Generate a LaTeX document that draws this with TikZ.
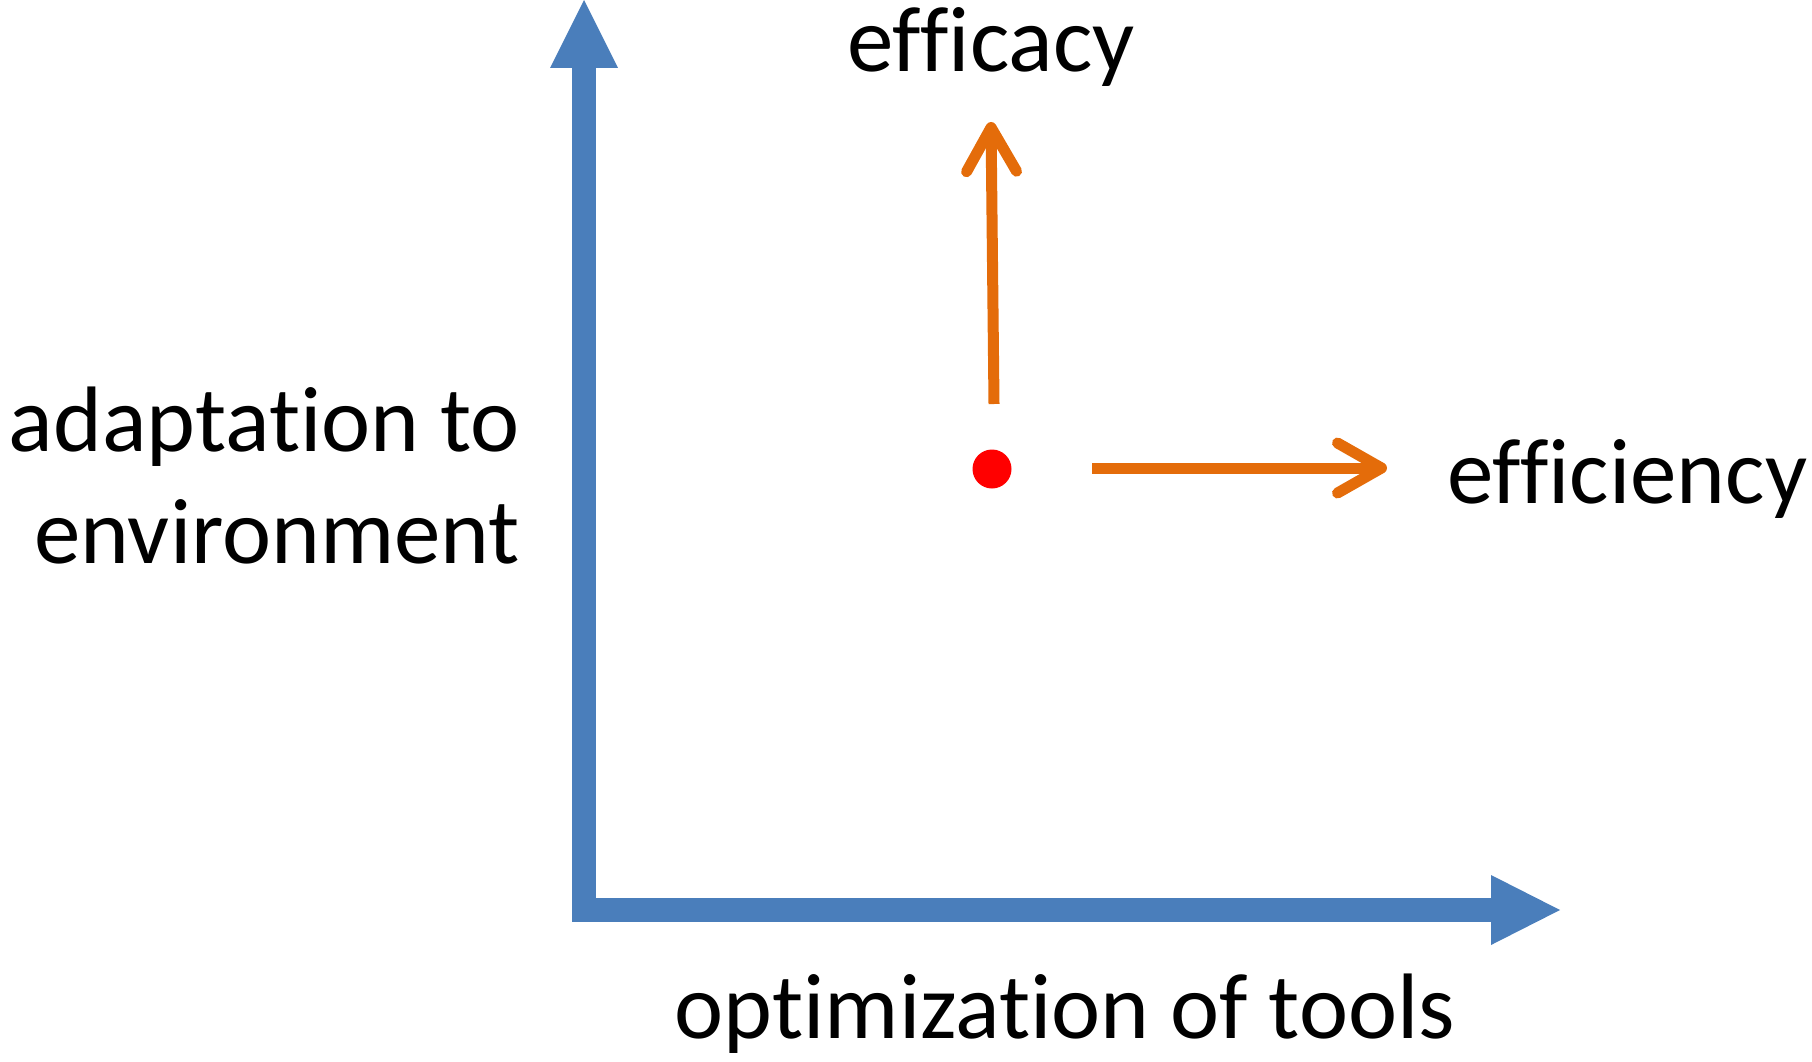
\documentclass[tikz,border=0pt]{standalone}
\usepackage{fontspec}
\setmainfont{Carlito}[Ligatures=NoCommon]
\usepackage{tikz}
\usetikzlibrary{arrows.meta,positioning}
\definecolor{AxisBlue}{HTML}{4A7EBB}
\definecolor{MoveOrange}{HTML}{E46C0A}
\definecolor{PointRed}{HTML}{FF0000}
\tikzstyle{axis} = [draw=AxisBlue,line width=24pt,miter limit=10,line join=miter,{Triangle[length=68pt,width=68pt,line width=0pt]}-{Triangle[length=69pt,width=70pt,line width=0pt]}]
\tikzstyle{move} = [draw=MoveOrange,line width=11pt,-{Straight Barb[length=44pt,width=50pt,round]}]
\tikzstyle{point} = [fill=PointRed,shape=circle,minimum size=39pt,inner sep=0pt]
\tikzstyle{caption} = [font=\fontsize{93}{112}\selectfont,inner sep=0pt]

\begin{document}
\begin{tikzpicture}[x=1pt,y=-1pt]
	\useasboundingbox (0,0) rectangle (1812,1062);
	\coordinate (ytip) at (584,0);
	\coordinate (origin) at (584,910);
	\coordinate (xtip) at (1560,910);
	\draw[axis] (ytip) -- (origin) -- (xtip);
	
	\node[point] (p) at (992,469) {};
	\coordinate (upstart) at (994,404);
	\coordinate (upend) at (991,122);
	\coordinate (rightstart) at (1092,468);
	\coordinate (rightend) at (1387,468);
	\draw[move] (upstart) -- (upend);
	\draw[move] (rightstart) -- (rightend);
	
	\node[caption,anchor=base] (efficacy) at (991,72) {efficacy};
	\node[caption,anchor=base west] (efficiency) at (1447,503) {efficiency};
	\node[caption,anchor=base] (tools) at (1065,1038) {optimization of tools};
	\node[caption,anchor=base east] (adapt) at (520,451) {adaptation to};
	\node[caption,anchor=base east] (env) at ([yshift=-112pt]adapt.base east) {environment};
\end{tikzpicture}
\end{document}
